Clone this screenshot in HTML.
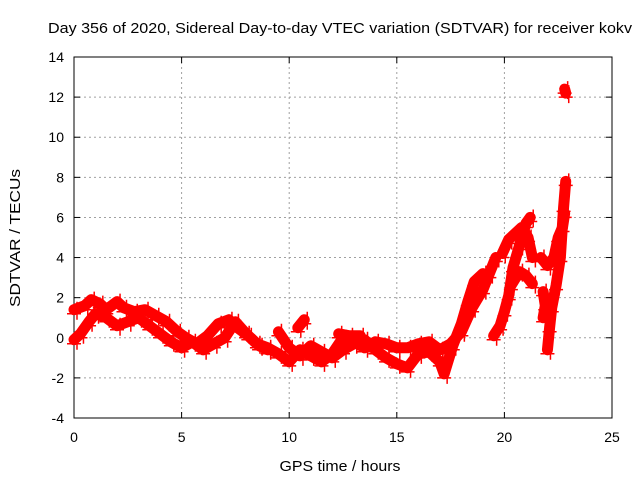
<!DOCTYPE html>
<html><head><meta charset="utf-8"><style>
html,body{margin:0;padding:0;background:#fff}
svg{display:block;font-family:"Liberation Sans",sans-serif}
</style></head><body>
<svg id="chart" width="640" height="480">
<rect width="640" height="480" fill="#fff"/>
<g id="grid"></g><g id="axes"></g><g id="marks"></g>
<text x="340" y="33" font-size="15" text-anchor="middle" textLength="584" lengthAdjust="spacingAndGlyphs">Day 356 of 2020, Sidereal Day-to-day VTEC variation (SDTVAR) for receiver kokv</text>
<text x="340" y="471" font-size="15" text-anchor="middle" textLength="121" lengthAdjust="spacingAndGlyphs">GPS time / hours</text>
<text transform="translate(20,238) rotate(-90)" font-size="15" text-anchor="middle" textLength="138" lengthAdjust="spacingAndGlyphs">SDTVAR / TECUs</text>
</svg>
<script>
const xTicks=[0,5,10,15,20,25];
const yTicks=[-4,-2,0,2,4,6,8,10,12,14];
const trackA=[[0,1.4],[0.5,1.6],[0.8,1.9],[1.2,1.7],[1.5,1.4],[2,1.8],[2.3,1.5],[2.8,1.3],[3.3,1.4],[3.8,1.1],[4.3,0.8],[4.8,0.3],[5.2,0],[5.7,-0.3],[6.2,0.1],[6.7,0.7],[7.2,0.9],[7.6,0.5],[8.1,0.1],[8.6,-0.4],[9,-0.6]];
const trackB=[[0,-0.1],[0.3,0.2],[0.7,0.8],[1,1.2],[1.5,1],[2,0.6],[2.5,0.8],[3,1],[3.5,0.6],[4,0.2],[4.5,-0.2],[5,-0.5],[5.5,-0.2],[6,-0.6],[6.5,-0.3],[7,0],[7.5,0.8],[8,0.2],[8.5,-0.3],[9,-0.5],[9.5,-0.8],[10,-1.2],[10.5,-0.6],[11,-0.9],[11.5,-1.2],[12,-0.8],[12.5,0],[13,-0.2],[13.5,-0.5],[14,-0.2],[14.5,-0.3],[15,-0.5],[15.5,-0.5],[16,-0.3],[16.5,-0.2],[17,-0.6],[17.5,-0.3],[18,0.3],[18.5,1.5],[19,2.4],[19.3,3.2],[19.6,4]];
const trackC=[[9.5,0.3],[10,-0.5],[10.5,-0.9],[11,-0.4],[11.5,-0.7],[12,-1],[12.5,-0.6],[13,-0.3],[13.5,-0.1],[14,-0.6],[14.5,-1],[15,-1.3],[15.5,-1.5],[16,-0.8],[16.5,-0.7],[17,-1.2],[17.2,-1.8],[17.6,-0.4],[18,0.7],[18.3,1.8],[18.6,2.8],[19,3.2]];
const trackD=[[10.4,0.5],[10.7,0.9]];
const trackD2=[[12.3,0.2],[12.8,0.1],[13.3,0.1]];
const trackE=[[19.5,0.1],[19.8,0.6],[20,1.3],[20.2,2.1],[20.4,3.5],[20.7,4.6],[21,5.7],[21.2,6]];
const trackF=[[20.3,2.6],[20.7,3.3],[21,3.1],[21.3,2.7]];
const trackG=[[19.9,4.2],[20.2,4.9],[20.5,5.2],[20.8,5.5],[21.1,5],[21.3,4]];
const trackH=[[22,-0.6],[22.1,0.5],[22.2,1.5],[22.4,2.6],[22.6,4],[22.75,6.5],[22.85,7.8]];
const trackI=[[21.7,4],[22,3.6],[22.3,4],[22.5,5],[22.7,5.5],[22.8,6.2]];
const trackJ=[[21.8,1],[21.9,1.6],[21.8,2.3]];
const trackK=[[22.8,12.4],[22.85,12.2]];
const tracks=[trackA,trackB,trackC,trackD,trackD2,trackE,trackF,trackG,trackH,trackI,trackJ,trackK];
const X=v=>74+(v-0)*(612-74)/25;
const Y=v=>418-(v+4)*(418-57)/18;
const NS="http://www.w3.org/2000/svg";
function mk(t,a,p){const e=document.createElementNS(NS,t);for(const k in a)e.setAttribute(k,a[k]);p.appendChild(e);return e;}
const grid=document.getElementById('grid'),axes=document.getElementById('axes'),marks=document.getElementById('marks');
mk('rect',{x:74,y:57,width:538,height:361,fill:'none',stroke:'#000','stroke-width':1},axes);
xTicks.forEach(t=>{const x=X(t);
 if(t>0&&t<25){const g=mk('line',{x1:x,x2:x,y1:57,y2:418,stroke:'#a0a0a0','stroke-dasharray':'2,3'},grid);}
 mk('line',{x1:x,x2:x,y1:418,y2:412,stroke:'#000'},axes);mk('line',{x1:x,x2:x,y1:57,y2:63,stroke:'#000'},axes);
 const l=mk('text',{x:x,y:442,'font-size':14,'text-anchor':'middle'},axes);l.textContent=t;
 });
yTicks.forEach(t=>{const y=Y(t);
 if(t>-4&&t<14){const g=mk('line',{x1:74,x2:612,y1:y,y2:y,stroke:'#a0a0a0','stroke-dasharray':'2,3'},grid);}
 mk('line',{x1:74,x2:80,y1:y,y2:y,stroke:'#000'},axes);mk('line',{x1:612,x2:606,y1:y,y2:y,stroke:'#000'},axes);
 const l=mk('text',{x:64,y:y+5,'font-size':14,'text-anchor':'end'},axes);l.textContent=t;
 });
tracks.forEach(tr=>{
 const pl=mk('polyline',{points:tr.map(p=>X(p[0])+','+Y(p[1])).join(' '),fill:'none',stroke:'#f00','stroke-width':11,'stroke-linejoin':'round','stroke-linecap':'round'},marks);
 
 
 tr.forEach(p=>{const x=X(p[0]),y=Y(p[1]);
  const m=mk('path',{d:`M${x-7},${y+4}H${x+7}M${x+3},${y-8}V${y+10}`,stroke:'#f00','stroke-width':1.5},marks);
  
  });
});
</script>
</body></html>
